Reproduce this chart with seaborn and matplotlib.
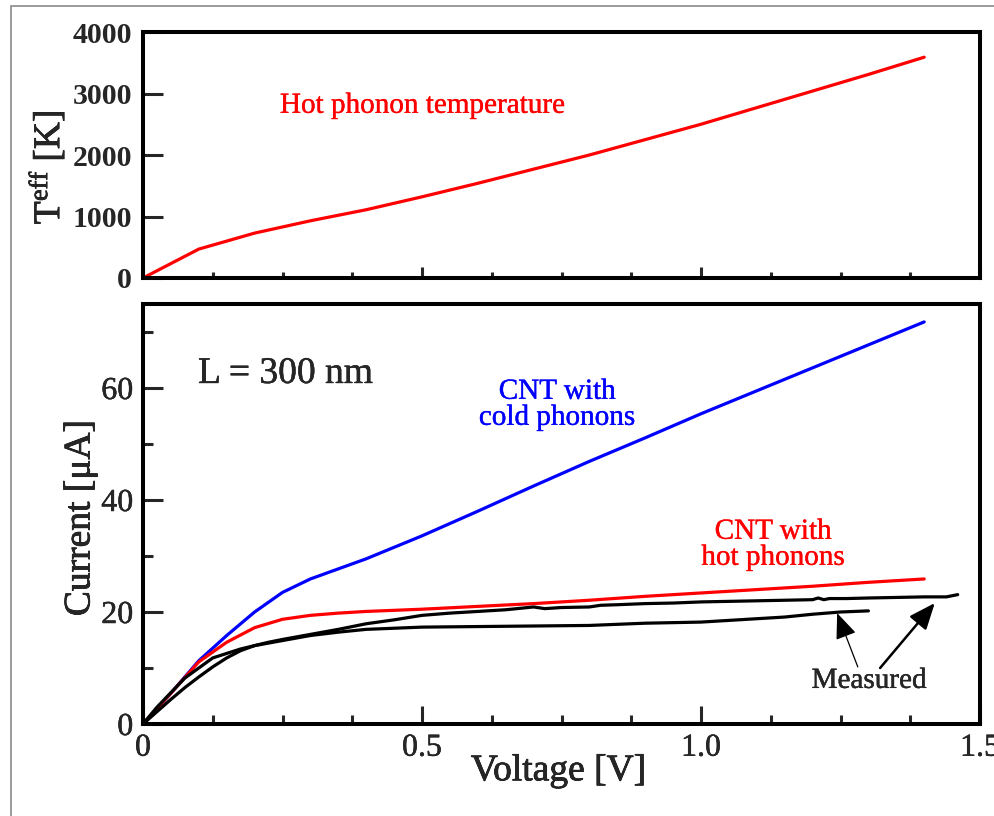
import numpy as np
import pandas as pd
import matplotlib
matplotlib.use("Agg")
import matplotlib.pyplot as plt
import matplotlib.patheffects as pe
from matplotlib.patches import Rectangle
from matplotlib.ticker import MultipleLocator
import seaborn as sns

# ---- data ----
teff_v = [0, 0.1, 0.2, 0.3, 0.4, 0.5, 0.6, 0.7, 0.8, 0.9, 1.0, 1.1, 1.2, 1.3, 1.4]
teff_k = [0, 470, 730, 930, 1110, 1320, 1540, 1770, 2000, 2250, 2500, 2770, 3040, 3310, 3590]

sim_v = [0, 0.05, 0.1, 0.15, 0.2, 0.25, 0.3, 0.35, 0.4, 0.5, 0.6, 0.7, 0.8, 0.9,
         1.0, 1.1, 1.2, 1.3, 1.4]
cold_i = [0, 5.5, 11.3, 15.8, 20.0, 23.5, 25.9, 27.7, 29.5, 33.6, 38.0, 42.5, 46.9,
          51.1, 55.4, 59.5, 63.6, 67.7, 71.8]
hot_i = [0, 5.5, 11.1, 14.6, 17.2, 18.7, 19.4, 19.8, 20.1, 20.5, 21.0, 21.5, 22.1,
         22.8, 23.4, 24.0, 24.6, 25.3, 25.9]

meas_a_v = [0, 0.025, 0.05, 0.075, 0.1, 0.125, 0.15, 0.175, 0.2, 0.225, 0.25, 0.3,
            0.35, 0.4, 0.45, 0.5, 0.55, 0.6, 0.65, 0.68, 0.7, 0.72, 0.75, 0.8, 0.82,
            0.85, 0.9, 0.95, 1.0, 1.05, 1.1, 1.15, 1.2, 1.21, 1.22, 1.23, 1.26, 1.3,
            1.35, 1.4, 1.44, 1.46]
meas_a_i = [0, 2.2, 4.4, 6.5, 8.4, 10.2, 11.8, 13.1, 14.0, 14.6, 15.1, 16.0,
            16.9, 17.9, 18.6, 19.4, 19.8, 20.1, 20.4, 20.7, 20.9, 20.6, 20.8, 20.9, 21.2,
            21.3, 21.5, 21.6, 21.8, 21.9, 22.0, 22.1, 22.2, 22.5, 22.2, 22.4, 22.4, 22.5,
            22.6, 22.7, 22.7, 23.1]

meas_b_v = [0, 0.025, 0.05, 0.075, 0.1, 0.125, 0.15, 0.175, 0.2, 0.25, 0.3, 0.35,
            0.4, 0.45, 0.5, 0.6, 0.7, 0.8, 0.85, 0.9, 0.95, 1.0, 1.05, 1.1, 1.15,
            1.2, 1.25, 1.3]
meas_b_i = [0, 3.0, 5.6, 8.2, 10.0, 11.8, 12.6, 13.4, 14.0, 14.9, 15.8, 16.4,
            16.9, 17.1, 17.3, 17.4, 17.5, 17.6, 17.8, 18.0, 18.1, 18.2, 18.5, 18.8,
            19.1, 19.6, 20.0, 20.2]

teff_df = pd.DataFrame({"V": teff_v, "T": teff_k})
cold_df = pd.DataFrame({"V": sim_v, "I": cold_i})
hot_df = pd.DataFrame({"V": sim_v, "I": hot_i})
meas_a_df = pd.DataFrame({"V": meas_a_v, "I": meas_a_i})
meas_b_df = pd.DataFrame({"V": meas_b_v, "I": meas_b_i})

# ---- style ----
sns.set_style("ticks")
plt.rcParams["font.family"] = ["Liberation Serif", "DejaVu Serif"]
plt.rcParams["mathtext.fontset"] = "custom"
plt.rcParams["mathtext.rm"] = "Liberation Serif"
plt.rcParams["mathtext.it"] = "Liberation Serif:italic"
plt.rcParams["mathtext.bf"] = "Liberation Serif:bold"


def heavy(color, w=0.5):
    """Slightly thicken glyph strokes."""
    return [pe.withStroke(linewidth=w, foreground=color)]


W, H = 994, 816
fig = plt.figure(figsize=(W / 100, H / 100), dpi=100)
fig.patch.set_facecolor("white")

# thin grey frame around the figure
fig.add_artist(Rectangle((11 / W, -0.1), 1.2, 1.1 - 6 / H, transform=fig.transFigure,
                         fill=False, edgecolor="#8a8a8a", linewidth=1.2))

ax_top = fig.add_axes([143 / W, 1 - 278 / H, 837 / W, 246 / H])
ax_bot = fig.add_axes([143 / W, 1 - 724 / H, 837 / W, 420 / H])

LW_SPINE = 2.9
LW_LINE = 2.3

for ax in (ax_top, ax_bot):
    ax.set_facecolor("white")
    for s in ax.spines.values():
        s.set_linewidth(LW_SPINE)
        s.set_color("black")
    ax.set_xlim(0, 1.5)
    ax.xaxis.set_major_locator(MultipleLocator(0.5))
    ax.xaxis.set_minor_locator(MultipleLocator(0.125))

# ---- top panel: hot phonon temperature ----
sns.lineplot(data=teff_df, x="V", y="T", ax=ax_top, color="#ff0000",
             linewidth=LW_LINE, sort=False, estimator=None)
ax_top.set_ylim(0, 4000)
ax_top.yaxis.set_major_locator(MultipleLocator(1000))
ax_top.tick_params(axis="x", which="major", direction="in", length=8, width=2.2,
                   labelbottom=False, top=False)
ax_top.tick_params(axis="x", which="minor", direction="in", length=4.5, width=2.2, top=False)
ax_top.tick_params(axis="y", which="major", direction="in", length=14.4, width=2.2,
                   labelsize=21.5, pad=8, right=False)
for lab in ax_top.get_yticklabels():
    lab.set_fontweight("bold")
ax_top.set_xlabel("")
ax_top.set_ylabel(r"$\mathrm{T^{eff}}$ [K]", fontsize=27)
ax_top.yaxis.set_label_coords(-0.115, 0.45)
ax_top.yaxis.label.set_va("center")
ax_top.yaxis.label.set_path_effects(heavy("black"))
ax_top.text(0.5, 2800, "Hot phonon temperature", color="#ff0000", fontsize=21,
            ha="center", va="center", path_effects=heavy("#ff0000", 0.25))

# ---- bottom panel: current vs voltage ----
sns.lineplot(data=cold_df, x="V", y="I", ax=ax_bot, color="#0000ff",
             linewidth=LW_LINE, sort=False, estimator=None)
sns.lineplot(data=hot_df, x="V", y="I", ax=ax_bot, color="#ff0000",
             linewidth=LW_LINE, sort=False, estimator=None)
sns.lineplot(data=meas_a_df, x="V", y="I", ax=ax_bot, color="black",
             linewidth=LW_LINE, sort=False, estimator=None)
sns.lineplot(data=meas_b_df, x="V", y="I", ax=ax_bot, color="black",
             linewidth=LW_LINE, sort=False, estimator=None)

ax_bot.set_ylim(0, 75)
ax_bot.yaxis.set_major_locator(MultipleLocator(20))
ax_bot.yaxis.set_minor_locator(MultipleLocator(10))
ax_bot.set_xticks([0, 0.5, 1.0, 1.5])
ax_bot.set_xticklabels(["0", "0.5", "1.0", "1.5"])
ax_bot.set_yticks([0, 20, 40, 60])
ax_bot.set_yticklabels(["0", "20", "40", "60"])
ax_bot.tick_params(axis="x", which="major", direction="in", length=13, width=2.2,
                   labelsize=23, pad=7, top=False)
ax_bot.tick_params(axis="x", which="minor", direction="in", length=6.5, width=2.2, top=False)
ax_bot.tick_params(axis="y", which="major", direction="in", length=14.4, width=2.2,
                   labelsize=23, pad=7, right=False)
ax_bot.tick_params(axis="y", which="minor", direction="in", length=7.2, width=2.2, right=False)
for lab in ax_bot.get_xticklabels() + ax_bot.get_yticklabels():
    lab.set_path_effects(heavy("black", 0.3))

ax_bot.set_xlabel("Voltage [V]", fontsize=27)
ax_bot.xaxis.set_label_coords(0.496, -0.112)
ax_bot.xaxis.label.set_va("center")
ax_bot.xaxis.label.set_path_effects(heavy("black"))
ax_bot.set_ylabel("Current [\u03bcA]", fontsize=27)
ax_bot.yaxis.set_label_coords(-0.075, 0.49)
ax_bot.yaxis.label.set_va("center")
ax_bot.yaxis.label.set_path_effects(heavy("black"))

ax_bot.text(0.0986, 60.9, "L = 300 nm", fontsize=27, ha="left", va="baseline",
            path_effects=heavy("black", 0.3))
ax_bot.text(0.742, 57.0, "CNT with\ncold phonons", color="#0000ff", fontsize=21,
            ha="center", va="center", linespacing=1.0, path_effects=heavy("#0000ff", 0.25))
ax_bot.text(1.129, 32.0, "CNT with\nhot phonons", color="#ff0000", fontsize=21,
            ha="center", va="center", linespacing=1.0, path_effects=heavy("#ff0000", 0.25))
ax_bot.text(1.301, 7.7, "Measured", fontsize=21, ha="center", va="center",
            path_effects=heavy("black", 0.25))

ax_bot.annotate("", xy=(1.244, 19.8), xytext=(1.281, 10.2),
                arrowprops=dict(arrowstyle="-|>,head_length=0.8,head_width=0.33",
                                mutation_scale=20, color="black", lw=0.9,
                                shrinkA=0, shrinkB=0),
                annotation_clip=False)
ax_bot.annotate("", xy=(1.419, 21.6), xytext=(1.321, 10.0),
                arrowprops=dict(arrowstyle="-|>,head_length=0.8,head_width=0.33",
                                mutation_scale=20, color="black", lw=1.8,
                                shrinkA=0, shrinkB=0),
                annotation_clip=False)

for ax in (ax_top, ax_bot):
    leg = ax.get_legend()
    if leg is not None:
        leg.remove()

fig.savefig("out.png", dpi=100, facecolor="white")
